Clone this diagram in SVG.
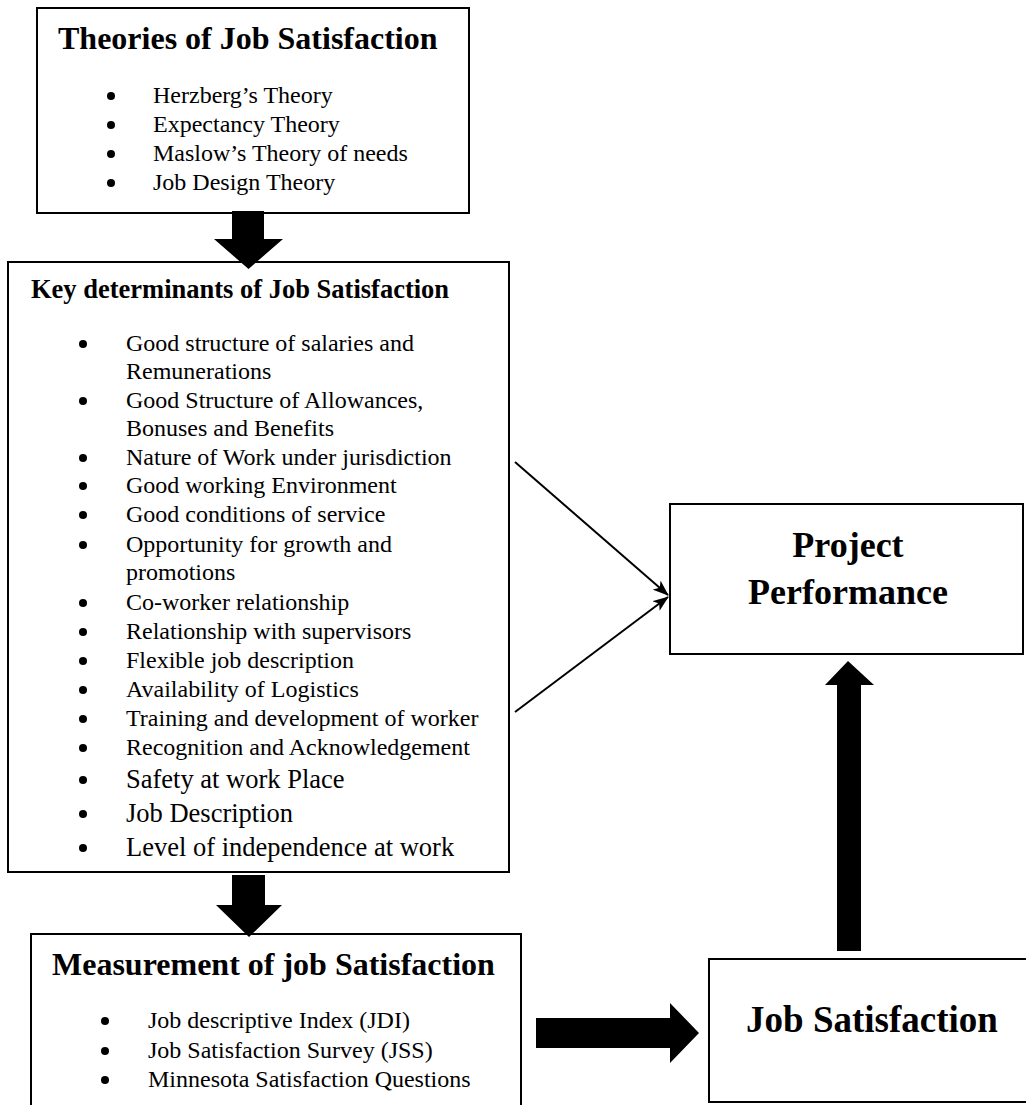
<svg xmlns="http://www.w3.org/2000/svg" width="1026" height="1105" viewBox="0 0 1026 1105">
  <defs>
    <style>
      .box { fill: #ffffff; stroke: #000000; stroke-width: 2; }
      .hd { font-family: "Liberation Serif", "Times New Roman", serif; font-weight: bold; fill: #000000; }
      .tx { font-family: "Liberation Serif", "Times New Roman", serif; font-size: 24px; fill: #000000; }
      .big { font-size: 26.5px; }
      .dot { fill: #000000; }
      .block { fill: #000000; stroke: none; }
      .thin { fill: none; stroke: #000000; stroke-width: 2; marker-end: url(#head); }
    </style>
    <marker id="head" viewBox="0 0 16 12" refX="15" refY="6" markerWidth="16" markerHeight="12" markerUnits="userSpaceOnUse" orient="auto">
      <path d="M0,0 L16,6 L0,12 L4,6 z" fill="#000000"/>
    </marker>
  </defs>

  <rect width="1026" height="1105" fill="#ffffff"/>

  <!-- Theories box -->
  <g id="theories">
    <rect class="box" x="37" y="8" width="432" height="205"/>
    <text class="hd" x="58" y="49" font-size="32">Theories of Job Satisfaction</text>
    <circle class="dot" cx="111" cy="96" r="4"/>
    <text class="tx" x="153" y="103">Herzberg’s Theory</text>
    <circle class="dot" cx="111" cy="125" r="4"/>
    <text class="tx" x="153" y="132">Expectancy Theory</text>
    <circle class="dot" cx="111" cy="154" r="4"/>
    <text class="tx" x="153" y="161">Maslow’s Theory of needs</text>
    <circle class="dot" cx="111" cy="183" r="4"/>
    <text class="tx" x="153" y="190">Job Design Theory</text>
  </g>

  <!-- Key determinants box -->
  <g id="determinants">
    <rect class="box" x="8" y="262" width="501" height="610"/>
    <text class="hd" x="31" y="298" font-size="26.5">Key determinants of Job Satisfaction</text>
    <circle class="dot" cx="83" cy="344" r="4"/>
    <text class="tx" x="126" y="351">Good structure of salaries and</text>
    <text class="tx" x="126" y="379">Remunerations</text>
    <circle class="dot" cx="83" cy="401" r="4"/>
    <text class="tx" x="126" y="408">Good Structure of Allowances,</text>
    <text class="tx" x="126" y="436">Bonuses and Benefits</text>
    <circle class="dot" cx="83" cy="458" r="4"/>
    <text class="tx" x="126" y="465">Nature of Work under jurisdiction</text>
    <circle class="dot" cx="83" cy="486" r="4"/>
    <text class="tx" x="126" y="493">Good working Environment</text>
    <circle class="dot" cx="83" cy="515" r="4"/>
    <text class="tx" x="126" y="522">Good conditions of service</text>
    <circle class="dot" cx="83" cy="545" r="4"/>
    <text class="tx" x="126" y="552">Opportunity for growth and</text>
    <text class="tx" x="126" y="580">promotions</text>
    <circle class="dot" cx="83" cy="603" r="4"/>
    <text class="tx" x="126" y="610">Co-worker relationship</text>
    <circle class="dot" cx="83" cy="632" r="4"/>
    <text class="tx" x="126" y="639">Relationship with supervisors</text>
    <circle class="dot" cx="83" cy="661" r="4"/>
    <text class="tx" x="126" y="668">Flexible job description</text>
    <circle class="dot" cx="83" cy="690" r="4"/>
    <text class="tx" x="126" y="697">Availability of Logistics</text>
    <circle class="dot" cx="83" cy="719" r="4"/>
    <text class="tx" x="126" y="726">Training and development of worker</text>
    <circle class="dot" cx="83" cy="748" r="4"/>
    <text class="tx" x="126" y="755">Recognition and Acknowledgement</text>
    <circle class="dot" cx="83" cy="780" r="4"/>
    <text class="tx big" x="126" y="788">Safety at work Place</text>
    <circle class="dot" cx="83" cy="814" r="4"/>
    <text class="tx big" x="126" y="822">Job Description</text>
    <circle class="dot" cx="83" cy="848" r="4"/>
    <text class="tx big" x="126" y="856">Level of independence at work</text>
  </g>

  <!-- Measurement box (runs past the lower edge) -->
  <g id="measurement">
    <rect class="box" x="31" y="934" width="490" height="200"/>
    <text class="hd" x="52" y="975" font-size="32">Measurement of job Satisfaction</text>
    <circle class="dot" cx="105" cy="1021" r="4"/>
    <text class="tx" x="148" y="1028">Job descriptive Index (JDI)</text>
    <circle class="dot" cx="105" cy="1051" r="4"/>
    <text class="tx" x="148" y="1058">Job Satisfaction Survey (JSS)</text>
    <circle class="dot" cx="105" cy="1080" r="4"/>
    <text class="tx" x="148" y="1087">Minnesota Satisfaction Questions</text>
  </g>

  <!-- Project Performance box -->
  <g id="project-performance">
    <rect class="box" x="670" y="504" width="353" height="150"/>
    <text class="hd" x="848" y="557" font-size="36" text-anchor="middle">Project</text>
    <text class="hd" x="848" y="604" font-size="36" text-anchor="middle">Performance</text>
  </g>

  <!-- Job Satisfaction box (runs past the right edge) -->
  <g id="job-satisfaction">
    <rect class="box" x="709" y="959" width="340" height="143"/>
    <text class="hd" x="872" y="1032" font-size="37" text-anchor="middle">Job Satisfaction</text>
  </g>

  <!-- Connectors -->
  <g id="connectors">
    <polygon class="block" points="232,211 264,211 264,239 283,239 248.5,269 214,239 232,239"/>
    <polygon class="block" points="232,875 265,875 265,905 282,905 249,937 216,905 232,905"/>
    <polygon class="block" points="837,951 861,951 861,685 874,685 848,661 825,685 837,685"/>
    <polygon class="block" points="536,1018 670,1018 670,1003 699,1033 670,1063 670,1048 536,1048"/>
    <line class="thin" x1="515" y1="462" x2="668" y2="595"/>
    <line class="thin" x1="515" y1="712" x2="668" y2="597"/>
  </g>
</svg>
